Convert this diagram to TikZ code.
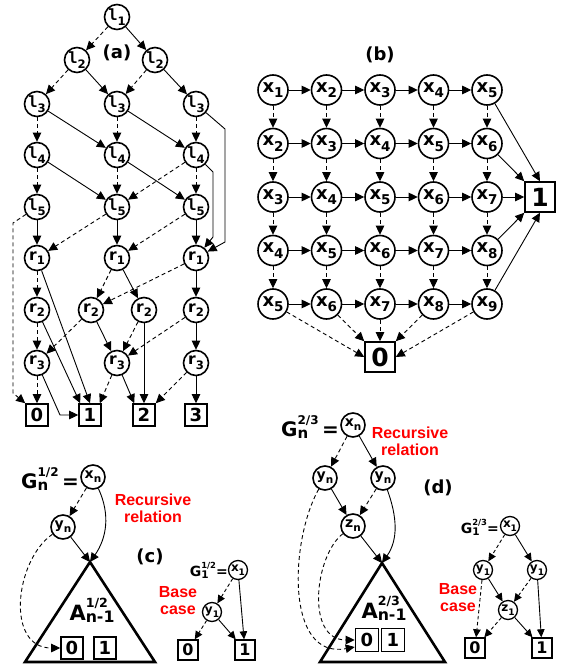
\documentclass[tikz,border=0pt]{standalone}
\usepackage{fontspec}
\usepackage{graphicx}
\setmainfont{DejaVu Sans}
\newfontfamily\monof{DejaVu Sans Mono}
\newfontfamily\redfont{Liberation Sans}
\usetikzlibrary{arrows.meta}
\newcommand\fs[1]{\fontsize{#1}{#1}\selectfont\bfseries}
\newcommand\sbs[1]{\raisebox{-0.3em}{\scalebox{0.75}{#1}}}
\newcommand\lv[1]{{\monof\bfseries l}\sbs{#1}}
\newsavebox\supA
\newsavebox\subA
\newcommand\supsub[2]{\sbox\supA{\scalebox{0.6}{#1}}\sbox\subA{\scalebox{0.75}{#2}}%
\rlap{\raisebox{0.62em}{\usebox\supA}}\raisebox{-0.1em}{\usebox\subA}%
\ifdim\wd\supA>\wd\subA\hspace{\dimexpr\wd\supA-\wd\subA\relax}\fi}
\tikzset{
 cir/.style={circle, draw, line width=1.6pt, inner sep=0pt, minimum size=25pt, font=\fs{15.5}},
 cbig/.style={cir, minimum size=30pt, font=\fs{18}},
 cmid/.style={cir, minimum size=24pt, font=\fs{14}},
 csml/.style={cir, minimum size=19pt, line width=1.3pt, font=\fs{12}},
 term/.style={draw, line width=1.6pt, minimum size=22pt, inner sep=0pt, font=\fs{18}},
 termb/.style={term, minimum size=30pt, font=\fs{25}},
 terms/.style={term, minimum size=20pt, line width=1.4pt, font=\fs{16}},
 sol/.style={-{Triangle[length=9pt,width=8.5pt]}, line width=0.9pt},
 das/.style={sol, dash pattern=on 4pt off 3pt},
 sols/.style={-{Triangle[length=8pt,width=7.5pt]}, line width=0.9pt},
 dass/.style={sols, dash pattern=on 3.5pt off 2.5pt},
 redtxt/.style={text=red, font=\redfont\bfseries\fontsize{16}{17}\selectfont, align=center},
 plab/.style={font=\fs{18}},
 trishape/.style={line width=2.6pt, line join=miter},
}
\begin{document}
\begin{tikzpicture}[x=1pt,y=-1pt]
\useasboundingbox (0,0) rectangle (564,668);
% ================= (a)
\node[cir] (l1) at (117,17) {\lv1};
\node[cir] (l2a) at (77,60) {\lv2};
\node[cir] (l2b) at (155,60) {\lv2};
\node[plab] at (117,53) {(a)};
\foreach \k in {3,4,5}{
 \pgfmathsetmacro\yy{\k==3?104:(\k==4?155:207)}
 \node[cir] (l\k a) at (37,\yy) {\lv{\k}};
 \node[cir] (l\k b) at (117,\yy) {\lv{\k}};
 \node[cir] (l\k c) at (196,\yy) {\lv{\k}};
}
\node[cir] (r1a) at (37,258) {r\sbs1};
\node[cir] (r1b) at (117,258) {r\sbs1};
\node[cir] (r1c) at (196,258) {r\sbs1};
\node[cir] (r2a) at (37,310) {r\sbs2};
\node[cir] (r2b) at (91,310) {r\sbs2};
\node[cir] (r2c) at (144,310) {r\sbs2};
\node[cir] (r2d) at (196,310) {r\sbs2};
\node[cir] (r3a) at (37,363) {r\sbs3};
\node[cir] (r3b) at (117,363) {r\sbs3};
\node[cir] (r3c) at (196,363) {r\sbs3};
\node[term] (t0) at (37,415) {0};
\node[term] (t1) at (90,415) {1};
\node[term] (t2) at (144,415) {2};
\node[term] (t3) at (196,415) {3};
\coordinate (ka1) at (225,129);
\coordinate (ka2) at (225,242);
\coordinate (kb1) at (213,172);
\coordinate (kb2) at (213,237);
\coordinate (kc1) at (13,223);
\coordinate (kc2) at (13,393);
\coordinate (kd1) at (60,415);
\draw[das] (l1) -- (l2a); \draw[sol] (l1) -- (l2b);
\draw[das] (l2a) -- (l3a); \draw[sol] (l2a) -- (l3b);
\draw[das] (l2b) -- (l3b); \draw[sol] (l2b) -- (l3c);
\draw[das] (l3a) -- (l4a); \draw[sol] (l3a) -- (l4b);
\draw[das] (l3b) -- (l4b); \draw[sol] (l3b) -- (l4c);
\draw[das] (l3c) -- (l4c); \draw[sol] (l3c) -- (ka1) -- (ka2) -- (r1c);
\draw[das] (l4a) -- (l5a); \draw[sol] (l4a) -- (l5b);
\draw[das] (l4b) -- (l5b); \draw[sol] (l4b) -- (l5c);
\draw[das] (l4c) -- (l5c); \draw[das] (l4c) -- (l5b);
\draw[sol] (l4c) -- (kb1) -- (kb2) -- (r1c);
\draw[das] (l5a) -- (kc1) -- (kc2) -- (t0.north west);
\draw[sol] (l5a) -- (r1a);
\draw[das] (l5b) -- (r1a); \draw[sol] (l5b) -- (r1b);
\draw[das] (l5c) -- (r1b); \draw[sol] (l5c) -- (r1c);
\draw[das] (r1a) -- (r2a); \draw[sol] (r1a) -- (t1.north);
\draw[das] (r1b) -- (r2b); \draw[sol] (r1b) -- (r2c);
\draw[das] (r1c) -- (r2b); \draw[sol] (r1c) -- (r2d);
\draw[das] (r2a) -- (r3a); \draw[sol] (r2a) -- ([xshift=2pt]t1.north west);
\draw[das] (r2b) -- (r3a); \draw[sol] (r2b) -- (r3b);
\draw[das] (r2c) -- (r3b); \draw[sol] (r2c) -- (t2.north);
\draw[das] (r2d) -- (r3b); \draw[sol] (r2d) -- (r3c);
\draw[das] (r3a) -- (t0); \draw[sol] (r3a) -- (kd1) -- (t1.west);
\draw[das] (r3b) -- ([xshift=-2pt]t1.north east); \draw[sol] (r3b) -- ([xshift=2pt]t2.north west);
\draw[das] (r3c) -- (t2.north east); \draw[sol] (r3c) -- (t3);
% ================= (b)
\node[plab] at (380,55) {(b)};
\foreach \r in {0,...,4}{
 \foreach \c in {0,...,4}{
  \pgfmathtruncatemacro\k{\r+\c+1}
  \node[cbig] (b\r\c) at ({273+53.5*\c},{90+53.5*\r}) {x\sbs{\k}};
 }
}
\foreach \r in {0,...,4}{
 \foreach \c [evaluate=\c as \cn using int(\c+1)] in {0,...,3}{
  \draw[sol] (b\r\c) -- (b\r\cn);
 }
}
\foreach \r [evaluate=\r as \rn using int(\r+1)] in {0,...,3}{
 \foreach \c in {0,...,4}{
  \draw[das] (b\r\c) -- (b\rn\c);
 }
}
\node[termb] (B1) at (540,197) {1};
\node[termb] (B0) at (380,357) {0};
\draw[sol] (b04) -- (B1.north);
\draw[sol] (b14) -- (B1.north west);
\draw[sol] (b24) -- (B1.west);
\draw[sol] (b34) -- (B1.south west);
\draw[sol] (b44) -- (B1.south);
\draw[das] (b40) -- (B0.west);
\draw[das] (b41) -- (B0.north west);
\draw[das] (b42) -- (B0.north);
\draw[das] (b43) -- (B0.north east);
\draw[das] (b44) -- (B0.east);
% ================= (c)
\node[font=\fs{20}, anchor=east, inner sep=0pt] (Gc) at (79,479) {G\supsub{1/2}{n}\,=};
\node[cmid] (cxn) at (93,477) {x\sbs{n}};
\node[cmid] (cyn) at (63,527) {y\sbs{n}};
\node[redtxt] at (153,508) {Recursive\\relation};
\node[plab] at (150,557) {(c)};
\coordinate (capex) at (90,562);
\draw[trishape] (90,562) -- (25,662) -- (155,662) -- cycle;
\node[font=\fs{21}] at (92,610) {A\supsub{1/2}{n-1}};
\node[term, minimum size=22pt] (c0) at (72,648) {0};
\node[term, minimum size=22pt] (c1) at (105,648) {1};
\draw[das] (cxn) -- (cyn);
\draw[sol] (cyn) -- (capex);
\draw[sol] (cxn) to[out=-65,in=55] (capex);
\draw[das] (cyn) .. controls (15,560) and (5,648) .. (c0.west);
% base case (c)
\node[font=\fs{14}, anchor=east, inner sep=0pt] at (228,570) {G\supsub{1/2}{1}=};
\node[csml] (cx1) at (238,570) {x\sbs1};
\node[csml] (cy1) at (212,612) {y\sbs1};
\node[terms] (cb0) at (188,650) {0};
\node[terms] (cb1) at (245,650) {1};
\node[redtxt] at (178,601) {Base\\case};
\draw[dass] (cx1) -- (cy1);
\draw[sols] (cx1) -- (cb1);
\draw[dass] (cy1) -- (cb0);
\draw[sols] (cy1) -- (cb1);
% ================= (d)
\node[font=\fs{20}, anchor=east, inner sep=0pt] (Gd) at (339,427) {G\supsub{2/3}{n}\,=};
\node[cmid] (dxn) at (353,425) {x\sbs{n}};
\node[cmid] (dyl) at (325,478) {y\sbs{n}};
\node[cmid] (dyr) at (383,478) {y\sbs{n}};
\node[cmid] (dzn) at (353,526) {z\sbs{n}};
\node[redtxt] at (410,441) {Recursive\\relation};
\node[plab] at (438,488) {(d)};
\coordinate (dapex) at (382,563);
\draw[trishape] (382,563) -- (320,662) -- (445,662) -- cycle;
\node[font=\fs{21}] at (384,608) {A\supsub{2/3}{n-1}};
\node[term, minimum size=23pt] (d0) at (367,640) {0};
\node[term, minimum size=23pt] (d1) at (393,640) {1};
\draw[das] (dxn) -- (dyl);
\draw[sol] (dxn) -- (dyr);
\draw[sol] (dyl) -- (dzn);
\draw[das] (dyr) -- (dzn);
\draw[sol] (dzn) -- (dapex);
\draw[sol] (dyr) to[out=-70,in=55] (dapex);
\draw[das] (dzn) .. controls (315,555) and (305,640) .. (d0.west);
\draw[das] (dyl) .. controls (290,540) and (285,660) .. ([yshift=-7pt]d0.west);
% base case (d)
\node[font=\fs{14}, anchor=east, inner sep=0pt] at (499,527) {G\supsub{2/3}{1}=};
\node[csml] (ex1) at (510,526) {x\sbs1};
\node[csml] (eyl) at (483,570) {y\sbs1};
\node[csml] (eyr) at (537,570) {y\sbs1};
\node[csml] (ez1) at (508,610) {z\sbs1};
\node[terms] (eb0) at (475,648) {0};
\node[terms] (eb1) at (542,648) {1};
\node[redtxt] at (458,598) {Base\\case};
\draw[dass] (ex1) -- (eyl);
\draw[sols] (ex1) -- (eyr);
\draw[dass] (eyl) -- (eb0);
\draw[sols] (eyl) -- (ez1);
\draw[dass] (eyr) -- (ez1);
\draw[sols] (eyr) -- (eb1);
\draw[dass] (ez1) -- (eb0);
\draw[sols] (ez1) -- (eb1);
\end{tikzpicture}
\end{document}
